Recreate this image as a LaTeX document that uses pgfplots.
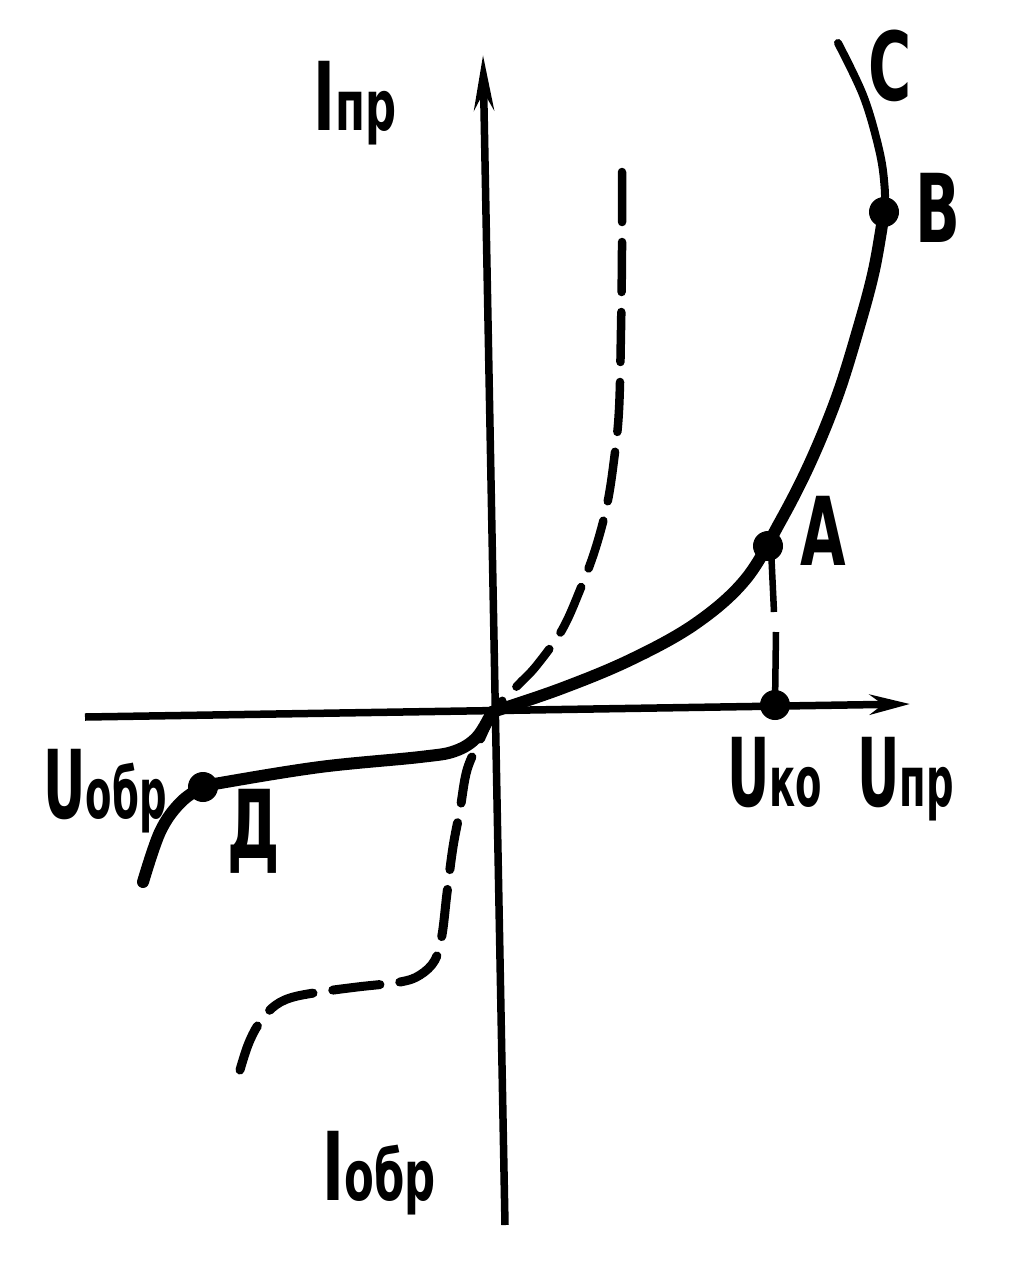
\documentclass[border=0pt]{standalone}
\usepackage{fontspec}
\setmainfont{DejaVu Sans}
\usepackage{pgfplots}
\pgfplotsset{compat=1.18}
\usetikzlibrary{arrows.meta}
\newcommand{\bg}[1]{{\fontsize{38}{40}\selectfont\bfseries #1}}
\newcommand{\sm}[1]{{\fontsize{28}{30}\selectfont\bfseries #1}}
\begin{document}
\begin{tikzpicture}
\begin{axis}[
  scale only axis, width=403.6pt, height=504.4pt,
  xmin=0, xmax=1009, ymin=0, ymax=1261, y dir=reverse,
  hide axis, clip=false,
]
\draw[draw=none] (rel axis cs:0,0) rectangle (rel axis cs:1,1);
% axes
\addplot[line width=3pt, -{Stealth[length=16pt,width=8pt]}] coordinates {(85,717) (910,704)};
\addplot[line width=3pt, -{Stealth[length=22pt,width=8pt]}] coordinates {(505,1225) (483,55)};
% forward solid curve
\addplot[line width=4.8pt, smooth, tension=0.6, line cap=round] coordinates {
(492,712) (560,689) (630,660) (695,624) (745,580) (780,522) (810,463) (837,397) (858,330) (874,270) (884,212)};
\addplot[line width=3.2pt, smooth, tension=0.6, line cap=round] coordinates {
(874,270) (884,212) (884,180) (878,145) (863,95) (838,43)};
% reverse solid curve
\addplot[line width=4.8pt, smooth, tension=0.6, line cap=round] coordinates {
(492,712) (477,737) (455,751) (420,757) (320,767) (220,783) (203,787) (180,803) (160,832) (143,882)};
% forward dashed
\addplot[line width=3.4pt, smooth, tension=0.6, line cap=round, dash pattern=on 20pt off 8pt] coordinates {
(622,172) (622,250) (621,330) (619,410) (614,460) (607,505) (595,550) (580,590) (562,630) (537,665) (520,683) (497,706)};
% reverse dashed
\addplot[line width=3.6pt, smooth, tension=0.6, line cap=round, dash pattern=on 19pt off 8pt] coordinates {
(240,1070) (248,1045) (258,1025) (272,1008) (290,998) (320,992) (357,987) (400,982) (420,975) (435,960) (442,935) (447,893) (453,847) (460,810) (467,770) (480,740) (490,718)};
% Uko vertical line
\addplot[line width=2.6pt] coordinates {(771,548) (774,612)};
\addplot[line width=2.6pt] coordinates {(776,632) (775,705)};
% points
\addplot[only marks, mark=*, mark size=5.8pt, black] coordinates {(768,546) (884,212) (203,787) (775,705)};
% labels
\node[anchor=base west, xscale=0.62, inner sep=0] at (axis cs:313,130) {\bg{I}\sm{пр}};
\node[anchor=base west, xscale=0.55, inner sep=0] at (axis cs:43,818) {\bg{U}\sm{обр}};
\node[anchor=base west, xscale=0.62, inner sep=0] at (axis cs:227,858) {\bg{Д}};
\node[anchor=base west, xscale=0.55, inner sep=0] at (axis cs:727,806) {\bg{U}\sm{ко}};
\node[anchor=base west, xscale=0.55, inner sep=0] at (axis cs:857,806) {\bg{U}\sm{пр}};
\node[anchor=base west, xscale=0.62, inner sep=0] at (axis cs:322,1200) {\bg{I}\sm{обр}};
\node[anchor=base west, xscale=0.62, inner sep=0] at (axis cs:868,100) {\bg{C}};
\node[anchor=base west, xscale=0.62, inner sep=0] at (axis cs:915,242) {\bg{B}};
\node[anchor=base west, xscale=0.62, inner sep=0] at (axis cs:800,565) {\bg{A}};
\end{axis}
\end{tikzpicture}
\end{document}
